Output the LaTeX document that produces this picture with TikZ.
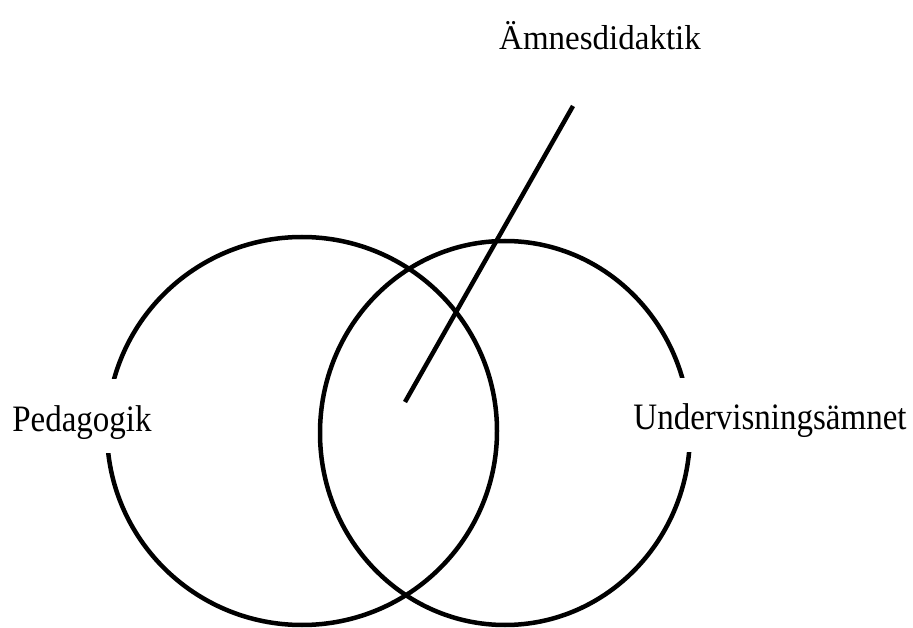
\documentclass[tikz,border=0pt]{standalone}
\usepackage{fontspec}
\setmainfont{Liberation Serif}
\usepackage{tikz}
\usetikzlibrary{positioning, shapes.geometric}

\begin{document}
\begin{tikzpicture}[x=1pt, y=1pt,
    ring/.style={draw=black, line width=4.5pt, ellipse, inner sep=0pt},
    word/.style={anchor=base, font=\fontsize{33}{38}\selectfont},
    field/.style={word, fill=white, inner xsep=6pt, inner ysep=0pt, text height=52pt, text depth=22pt}]
  \useasboundingbox (0,0) rectangle (913,627);
  \node[ring, minimum width=390pt, minimum height=388pt] (ped) at (302,196) {};
  \node[ring, minimum width=370pt, minimum height=384pt] (amne) at (505,194) {};
  \node[field] (pedlbl) at (82,196) {\scalebox{1}[1.13]{Pedagogik}};
  \node[field] (amnelbl) at (770,197) {\scalebox{1}[1.13]{Undervisningsämnet}};
  \node[word] (didlbl) at (600,577) {\scalebox{1}[1.05]{Ämnesdidaktik}};
  \coordinate (core) at (405,225);
  \coordinate (tip) at (573,521);
  \draw[line width=4.5pt] (core) -- (tip);
\end{tikzpicture}
\end{document}
